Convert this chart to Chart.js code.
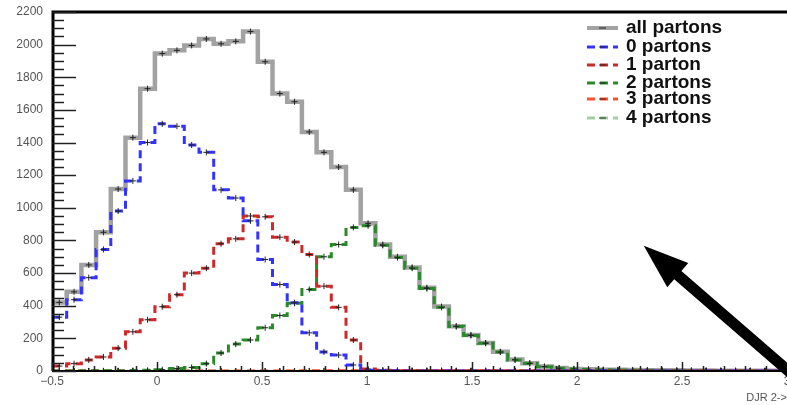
<!DOCTYPE html>
<html>
<head>
<meta charset="utf-8">
<script src="https://cdn.jsdelivr.net/npm/chart.js@4.4.1/dist/chart.umd.min.js"></script>
<style>
  body { margin: 0; background: #fff; }
  #wrap { width: 787px; height: 405px; }
</style>
</head>
<body>
<div id="wrap"><canvas id="djr" width="787" height="405"></canvas></div>
<script>
// histogram: 50 bins from -0.5 to 3.0
const xMin = -0.5;
const xMax = 3.0;
const binWidth = 0.07;

const labels = ['all partons', '0 partons', '1 parton', '2 partons', '3 partons', '4 partons'];

const allPartons = [420, 485, 650, 850, 1115, 1430, 1730, 1945, 1965, 1995,
    2035, 2005, 2020, 2080, 1895, 1700, 1650, 1465, 1340, 1250,
    1110, 905, 775, 700, 635, 510, 395, 275, 220, 172,
    118, 70, 48, 27, 18, 13, 10, 8, 7, 6,
    5, 4, 4, 3, 3, 2, 2, 2, 1, 1];
const zeroPartons = [330, 437, 572, 745, 980, 1165, 1400, 1515, 1500, 1385,
    1340, 1110, 1060, 920, 683, 530, 418, 234, 117, 98,
    37, 5, 2, 1, 0, 0, 0, 0, 0, 0,
    0, 0, 0, 0, 0, 0, 0, 0, 0, 0,
    0, 0, 0, 0, 0, 0, 0, 0, 0, 0];
const oneParton = [30, 45, 68, 86, 140, 240, 314, 394, 468, 600,
    630, 780, 810, 950, 945, 820, 790, 714, 520, 390,
    190, 12, 4, 2, 2, 1, 1, 1, 1, 1,
    1, 0, 0, 0, 0, 0, 0, 0, 0, 0,
    0, 0, 0, 0, 0, 0, 0, 0, 0, 0];
const twoPartons = [0, 0, 1, 1, 2, 3, 4, 8, 15, 22,
    45, 110, 165, 190, 265, 340, 415, 500, 700, 775,
    880, 890, 770, 695, 630, 505, 390, 272, 218, 170,
    116, 68, 46, 26, 17, 12, 9, 7, 6, 5,
    4, 3, 3, 2, 2, 2, 1, 1, 1, 1];
const threePartons = [0, 0, 0, 0, 0, 0, 0, 0, 0, 0,
    0, 0, 0, 0, 0, 0, 0, 1, 1, 2,
    2, 3, 3, 3, 3, 3, 3, 2, 2, 2,
    2, 2, 2, 2, 1, 1, 1, 1, 1, 1,
    1, 1, 1, 1, 1, 1, 1, 1, 1, 1];
const fourPartons = [0, 0, 0, 0, 0, 0, 0, 0, 0, 0,
    0, 0, 0, 0, 0, 0, 0, 0, 0, 0,
    0, 0, 0, 0, 0, 0, 0, 0, 0, 0,
    0, 0, 0, 0, 0, 0, 0, 0, 0, 0,
    0, 0, 0, 0, 0, 0, 0, 0, 0, 0];

const xTickLabels = ['\u22120.5', '0', '0.5', '1', '1.5', '2', '2.5', '3'];
const yTickLabels = ['0', '200', '400', '600', '800', '1000', '1200', '1400', '1600', '1800', '2000', '2200'];

const colors = ['#a2a2a2', '#3333ff', '#cc2a2a', '#2a8a2a', '#ff5030', '#9fd0a0'];
const series = [allPartons, zeroPartons, oneParton, twoPartons, threePartons, fourPartons];

// points sit on bin centres, 'middle' stepping puts the steps on the bin edges
function histPoints(vals) {
    const pts = [{ x: xMin, y: vals[0] }];
    vals.forEach((v, i) => pts.push({ x: xMin + binWidth * (i + 0.5), y: v }));
    pts.push({ x: xMax, y: vals[vals.length - 1] });
    return pts;
}

const datasets = series.map((vals, i) => ({
    label: labels[i],
    data: histPoints(vals),
    stepped: 'middle',
    borderColor: colors[i],
    borderWidth: i === 0 ? 4.5 : 3,
    borderDash: i === 0 ? [] : [8, 5],
    pointStyle: 'cross',
    pointRadius: ctx => (ctx.dataIndex === 0 || ctx.dataIndex === vals.length + 1) ? 0 : 3,
    pointBorderColor: '#222',
    pointBorderWidth: 1,
    order: i === 0 ? 10 : i
}));

const rootStyle = {
    id: 'rootStyle',
    afterDraw(chart) {
        const ctx = chart.ctx;
        const x = chart.scales.x, y = chart.scales.y;
        const area = chart.chartArea;
        ctx.save();

        // frame
        ctx.strokeStyle = '#000';
        ctx.lineWidth = 3;
        ctx.beginPath();
        ctx.moveTo(area.left + 1, area.bottom);
        ctx.lineTo(area.left + 1, area.top);
        ctx.lineTo(area.right, area.top);
        ctx.stroke();
        ctx.lineWidth = 2;
        ctx.beginPath();
        ctx.moveTo(area.left, area.bottom);
        ctx.lineTo(area.right, area.bottom);
        ctx.stroke();

        // y ticks
        ctx.strokeStyle = '#222';
        ctx.lineWidth = 1.5;
        for (let v = 0; v <= 2200; v += 50) {
            const py = Math.round(y.getPixelForValue(v)) + 0.5;
            const len = v % 200 === 0 ? 24 : 12;
            ctx.beginPath();
            ctx.moveTo(area.left, py);
            ctx.lineTo(area.left + len, py);
            ctx.stroke();
        }
        ctx.fillStyle = '#555';
        ctx.font = '12px "Liberation Sans", Arial, sans-serif';
        ctx.textAlign = 'right';
        ctx.textBaseline = 'middle';
        yTickLabels.forEach(t => {
            ctx.fillText(t, area.left - 9, y.getPixelForValue(Number(t)));
        });

        // x ticks
        ctx.lineWidth = 1.5;
        for (let k = 0; k <= 35; k++) {
            const v = xMin + k * 0.1;
            const px = Math.round(x.getPixelForValue(v)) + 0.5;
            const len = k % 5 === 0 ? 9 : 5;
            ctx.beginPath();
            ctx.moveTo(px, area.bottom);
            ctx.lineTo(px, area.bottom - len);
            ctx.stroke();
        }
        ctx.textAlign = 'center';
        ctx.textBaseline = 'top';
        xTickLabels.forEach((t, k) => {
            ctx.fillText(t, x.getPixelForValue(xMin + k * 0.5), area.bottom + 5);
        });
        ctx.textAlign = 'right';
        ctx.font = '11px "Liberation Sans", Arial, sans-serif';
        ctx.fillText('DJR 2->3', area.right + 6, area.bottom + 21);

        // legend
        ctx.textAlign = 'left';
        ctx.textBaseline = 'middle';
        ctx.font = 'bold 19px "Liberation Sans", Arial, sans-serif';
        const rows = [28, 47, 65, 83, 99, 118];
        chart.data.datasets.forEach((ds, i) => {
            const ly = rows[i];
            ctx.strokeStyle = ds.borderColor;
            ctx.lineWidth = i === 0 ? 4 : 3;
            ctx.setLineDash(ds.borderDash);
            ctx.beginPath();
            ctx.moveTo(587, ly);
            ctx.lineTo(618, ly);
            ctx.stroke();
            ctx.setLineDash([]);
            ctx.strokeStyle = '#222';
            ctx.lineWidth = 1;
            ctx.beginPath();
            ctx.moveTo(599, ly);
            ctx.lineTo(606, ly);
            ctx.stroke();
            ctx.fillStyle = '#111';
            ctx.fillText(ds.label, 626, ly);
        });

        // arrow
        const tip = { x: x.getPixelForValue(2.318), y: y.getPixelForValue(768) };
        const tail = { x: x.getPixelForValue(3.02), y: y.getPixelForValue(-15) };
        const ang = Math.atan2(tip.y - tail.y, tip.x - tail.x);
        const headLen = 45, headHalf = 16, shaft = 5.5;
        const bx = tip.x - headLen * Math.cos(ang), by = tip.y - headLen * Math.sin(ang);
        const nx = -Math.sin(ang), ny = Math.cos(ang);
        ctx.fillStyle = '#000';
        ctx.beginPath();
        ctx.moveTo(tail.x + nx * shaft, tail.y + ny * shaft);
        ctx.lineTo(bx + nx * shaft, by + ny * shaft);
        ctx.lineTo(bx + nx * headHalf, by + ny * headHalf);
        ctx.lineTo(tip.x, tip.y);
        ctx.lineTo(bx - nx * headHalf, by - ny * headHalf);
        ctx.lineTo(bx - nx * shaft, by - ny * shaft);
        ctx.lineTo(tail.x - nx * shaft, tail.y - ny * shaft);
        ctx.closePath();
        ctx.fill();

        ctx.restore();
    }
};

new Chart(document.getElementById('djr'), {
    type: 'line',
    data: { datasets: datasets },
    options: {
        responsive: false,
        animation: false,
        layout: { padding: { left: 52, top: 12, right: 0, bottom: 34 } },
        plugins: { legend: { display: false }, tooltip: { enabled: false } },
        scales: {
            x: { type: 'linear', min: xMin, max: xMax, display: false },
            y: { type: 'linear', min: 0, max: 2200, display: false }
        }
    },
    plugins: [rootStyle]
});
</script>
</body>
</html>
